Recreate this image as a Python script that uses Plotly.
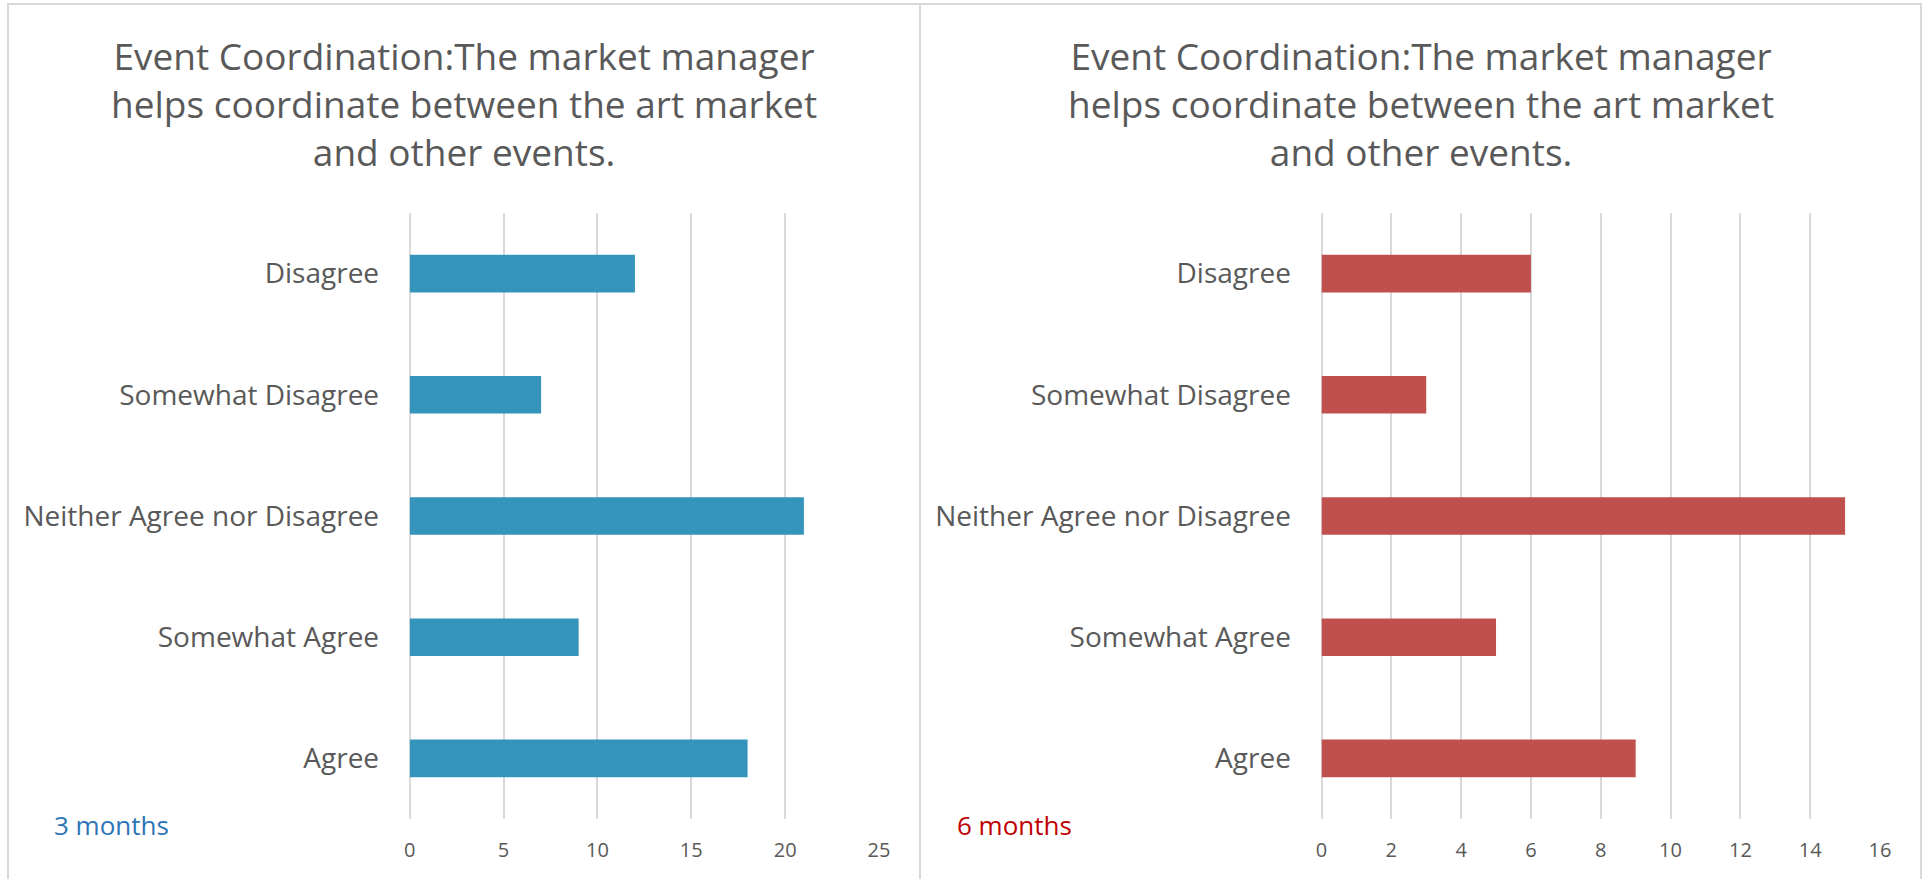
import plotly.graph_objects as go

W, H = 1929, 879

categories = ["Agree", "Somewhat Agree", "Neither Agree nor Disagree", "Somewhat Disagree", "Disagree"]
values_3m = [18, 9, 21, 7, 12]
values_6m = [9, 5, 15, 3, 6]
title_text = "Event Coordination:The market manager<br>helps coordinate between the art market<br>and other events."
ticks_3m = [0, 5, 10, 15, 20, 25]
ticks_6m = [0, 2, 4, 6, 8, 10, 12, 14, 16]

FONT = "Open Sans"
GRAY = "#595959"
GRID = "#D9D9D9"

def px(x):
    return x / W

def py(y):
    return 1 - y / H

fig = go.Figure()
fig.add_trace(go.Bar(x=values_3m, y=categories, orientation="h", marker_color="#3594BB",
                     xaxis="x", yaxis="y", showlegend=False))
fig.add_trace(go.Bar(x=values_6m, y=categories, orientation="h", marker_color="#C0504D",
                     xaxis="x2", yaxis="y2", showlegend=False))

xcommon = dict(showgrid=True, gridcolor=GRID, gridwidth=2, zeroline=True, zerolinecolor=GRID,
               zerolinewidth=2, showline=False, ticks="outside", ticklen=13,
               tickcolor="rgba(0,0,0,0)", tickfont=dict(family=FONT, size=20, color=GRAY),
               fixedrange=True, automargin=False)
ycommon = dict(showgrid=False, zeroline=False, showline=False, ticks="outside", ticklen=24,
               tickcolor="rgba(0,0,0,0)", tickfont=dict(family=FONT, size=28, color=GRAY),
               categoryorder="array", categoryarray=categories, automargin=False,
               fixedrange=True)

ydom = [py(819), py(213)]
fig.update_layout(
    template="none",
    width=W, height=H, margin=dict(l=0, r=0, t=0, b=0, pad=0),
    paper_bgcolor="white", plot_bgcolor="white",
    bargap=0.69,
    xaxis=dict(domain=[px(409.7), px(879)], range=[0, 25], tickvals=ticks_3m, anchor="y", **xcommon),
    yaxis=dict(domain=ydom, anchor="x", **ycommon),
    xaxis2=dict(domain=[px(1321.5), px(1880)], range=[0, 16], tickvals=ticks_6m, anchor="y2", **xcommon),
    yaxis2=dict(domain=ydom, anchor="x2", **ycommon),
    shapes=[
        dict(type="rect", xref="paper", yref="paper", x0=px(8), x1=px(920), y0=-0.02, y1=py(4),
             line=dict(color=GRID, width=2), layer="below"),
        dict(type="rect", xref="paper", yref="paper", x0=px(920), x1=px(1921), y0=-0.02, y1=py(4),
             line=dict(color=GRID, width=2), layer="below"),
    ],
    annotations=[
        dict(text=title_text, xref="paper", yref="paper", x=px(464), y=py(103),
             xanchor="center", yanchor="middle", showarrow=False,
             font=dict(family=FONT, size=37, color=GRAY)),
        dict(text=title_text, xref="paper", yref="paper", x=px(1420.5), y=py(103),
             xanchor="center", yanchor="middle", showarrow=False,
             font=dict(family=FONT, size=37, color=GRAY)),
        dict(text="3 months", xref="paper", yref="paper", x=px(52), y=py(825),
             xanchor="left", yanchor="middle", showarrow=False,
             font=dict(family=FONT, size=26, color="#2E75B6")),
        dict(text="6 months", xref="paper", yref="paper", x=px(955), y=py(825),
             xanchor="left", yanchor="middle", showarrow=False,
             font=dict(family=FONT, size=26, color="#C00000")),
    ],
)

fig.write_html("out.html", config={"displayModeBar": False},
               post_script="document.body.style.margin='0';document.body.style.overflow='hidden';")
